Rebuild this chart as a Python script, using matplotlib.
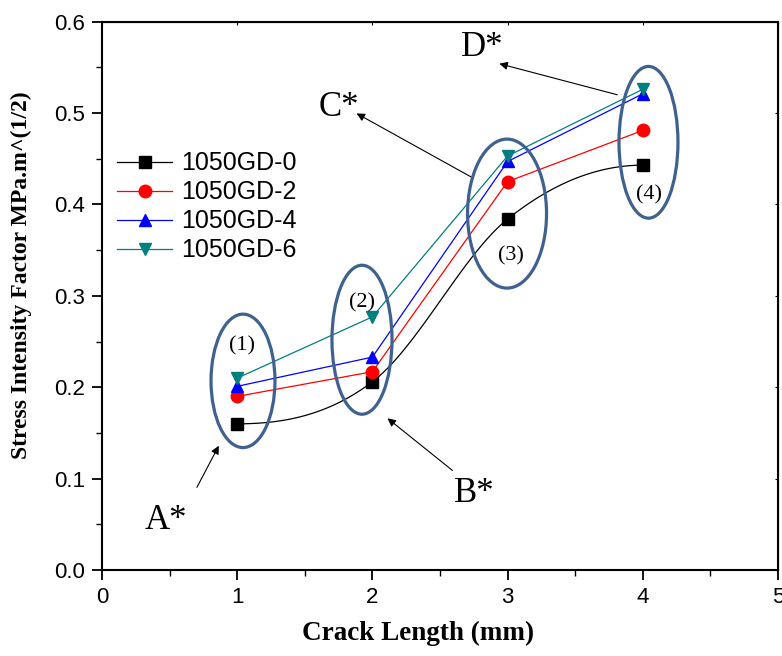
import numpy as np
import matplotlib
matplotlib.use('Agg')
import matplotlib.pyplot as plt
from matplotlib.patches import Ellipse

# data
crack_len = [1, 2, 3, 4]
gd0 = [0.160, 0.206, 0.384, 0.443]
gd2 = [0.190, 0.217, 0.425, 0.481]
gd4 = [0.201, 0.233, 0.447, 0.521]
gd6 = [0.210, 0.277, 0.453, 0.526]
labels = ['1050GD-0', '1050GD-2', '1050GD-4', '1050GD-6']

serif = ['Liberation Serif', 'DejaVu Serif']
sans = ['Liberation Sans', 'DejaVu Sans']


def hermite(x, y, n=40):
    # catmull-rom style curve, flat at both ends
    x = np.asarray(x, float)
    y = np.asarray(y, float)
    m = np.zeros_like(y)
    m[1:-1] = (y[2:] - y[:-2]) / (x[2:] - x[:-2])
    xs, ys = [], []
    for i in range(len(x) - 1):
        h = x[i + 1] - x[i]
        t = np.linspace(0, 1, n)
        h00 = 2 * t**3 - 3 * t**2 + 1
        h10 = t**3 - 2 * t**2 + t
        h01 = -2 * t**3 + 3 * t**2
        h11 = t**3 - t**2
        xs.append(x[i] + t * h)
        ys.append(h00 * y[i] + h10 * h * m[i] + h01 * y[i + 1] + h11 * h * m[i + 1])
    return np.concatenate(xs), np.concatenate(ys)


fig = plt.figure(figsize=(7.82, 6.56), dpi=100)
ax = fig.add_axes([0.1304, 0.131, 0.8645, 0.836])

# black series is drawn smooth, others straight
sx, sy = hermite(crack_len, gd0)
ax.plot(sx, sy, color='black', lw=0.9)
ax.plot(crack_len, gd0, 's', color='black', ms=8)
ax.plot([], [], '-s', color='black', lw=0.9, ms=8, label=labels[0])
ax.plot(crack_len, gd2, '-o', color='red', lw=0.9, ms=9, label=labels[1])
ax.plot(crack_len, gd4, '-^', color='blue', lw=0.9, ms=9, label=labels[2])
ax.plot(crack_len, gd6, '-v', color='#007f7f', lw=0.9, ms=9, label=labels[3])

# grouping ellipses
ell_col = '#3f6190'
for cx, cy, w, h in [(1.043, 0.207, 0.473, 0.146), (1.923, 0.252, 0.444, 0.163),
                     (2.996, 0.390, 0.584, 0.163), (4.042, 0.468, 0.436, 0.166)]:
    ax.add_patch(Ellipse((cx, cy), w, h, fill=False, ec=ell_col, lw=2.3, zorder=5))

for txt, x, y in [('(1)', 1.034, 0.2455), ('(2)', 1.920, 0.292),
                  ('(3)', 3.028, 0.3436), ('(4)', 4.047, 0.411)]:
    ax.text(x, y, txt, ha='center', va='center', fontsize=16, family=serif)

arrow = dict(arrowstyle='-|>', color='black', lw=0.8, mutation_scale=12, shrinkA=0, shrinkB=0)
ax.annotate('', xy=(0.864, 0.136), xytext=(0.702, 0.0905), arrowprops=arrow)
ax.annotate('', xy=(2.112, 0.166), xytext=(2.592, 0.109), arrowprops=arrow)
ax.annotate('', xy=(1.883, 0.4996), xytext=(2.747, 0.4287), arrowprops=arrow)
ax.annotate('', xy=(2.939, 0.554), xytext=(3.811, 0.520), arrowprops=arrow)
for txt, x, y in [('A*', 0.473, 0.0545), ('B*', 2.755, 0.084),
                  ('C*', 1.750, 0.506), ('D*', 2.814, 0.5716)]:
    ax.text(x, y, txt, ha='center', va='center', fontsize=25, family=serif)

ax.set_xlim(0, 5)
ax.set_ylim(0, 0.6)
ax.set_xticks(np.arange(0, 5.1, 1))
ax.set_xticks(np.arange(0.5, 5, 1), minor=True)
ax.set_yticks(np.arange(0, 0.61, 0.1))
ax.set_yticks(np.arange(0.05, 0.6, 0.1), minor=True)
ax.set_yticklabels([f'{v:.1f}' for v in np.arange(0, 0.61, 0.1)])
for lab in ax.get_xticklabels() + ax.get_yticklabels():
    lab.set_family(sans)
    lab.set_fontsize(16)
ax.tick_params(which='major', direction='out', length=7, width=1.3, pad=5)
ax.tick_params(which='minor', direction='out', length=4, width=1.0)
# tiny inward marks on the mirrored top/right axes
ax.secondary_xaxis('top').tick_params(direction='in', length=2, labeltop=False)
ax.secondary_yaxis('right').tick_params(direction='in', length=2, labelright=False)
for s in ax.spines.values():
    s.set_linewidth(1.5)

ax.set_xlabel('Crack Length (mm)', fontsize=19.5, fontweight='bold', family=serif)
ax.set_ylabel('Stress Intensity Factor MPa.m^(1/2)', fontsize=17, fontweight='bold',
              family=serif)
ax.xaxis.set_label_coords(0.467, -0.093)
ax.yaxis.set_label_coords(-0.104, 0.537)

leg = ax.legend(loc='upper left', bbox_to_anchor=(-0.007, 0.8), frameon=False,
                prop={'family': sans, 'size': 18}, handlelength=2.2,
                labelspacing=0.2, handletextpad=0.35, borderpad=0.3)

fig.savefig('out.png', dpi=100)
